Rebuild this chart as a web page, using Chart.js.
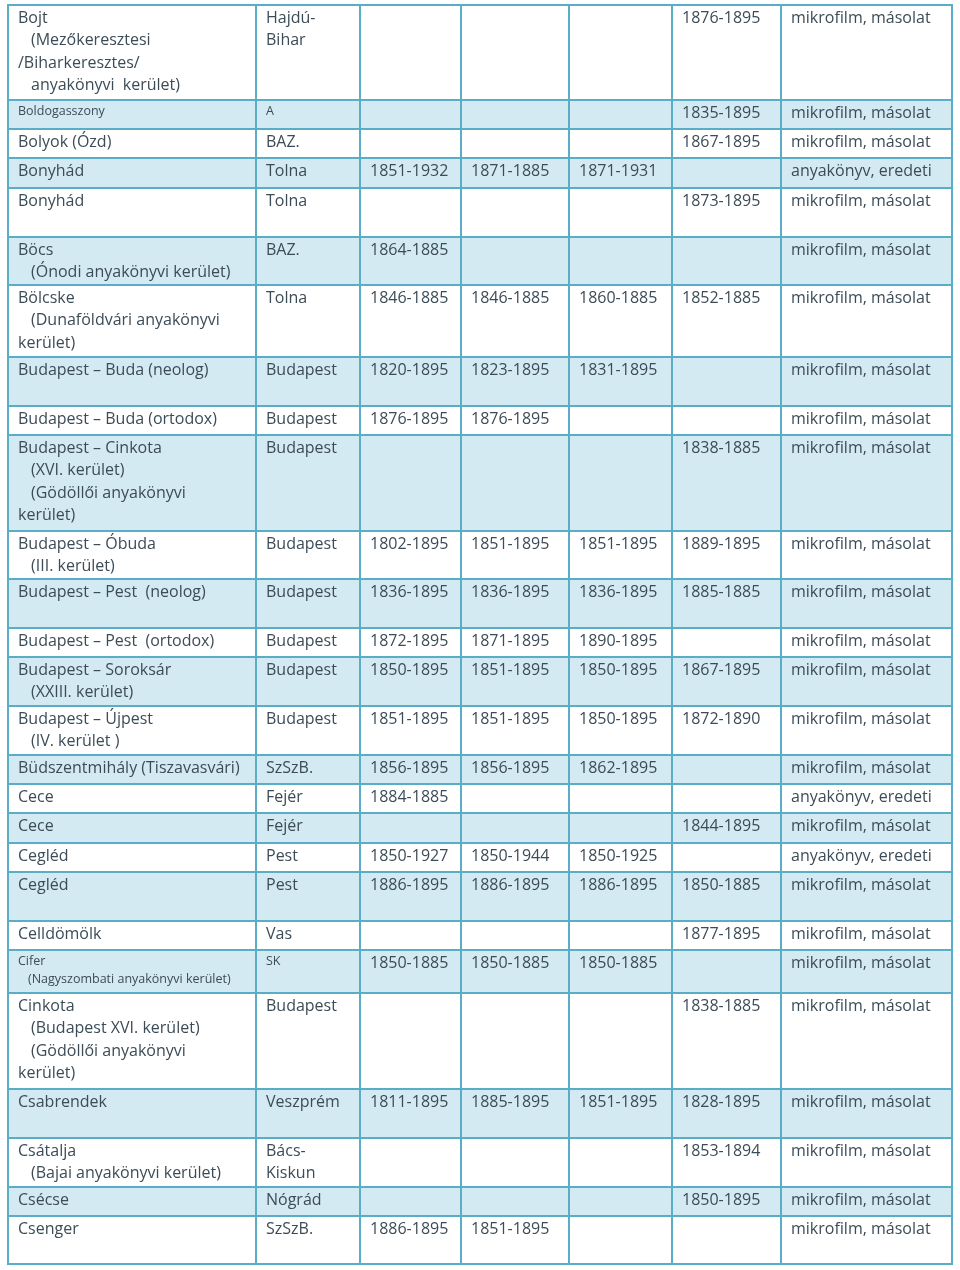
<!DOCTYPE html>
<html>
<head>
<meta charset="utf-8">
<script src="https://cdn.jsdelivr.net/npm/chart.js@4.4.1/dist/chart.umd.min.js"></script>
<style>
html,body{margin:0;padding:0;background:#ffffff;}
#wrap{width:960px;height:1270px;position:relative;}
</style>
</head>
<body>
<div id="wrap"><canvas id="c" width="960" height="1270"></canvas></div>
<script>
// ---------- DATA ----------
const places = [
  ["Bojt", "  (Mezőkeresztesi", "/Biharkeresztes/", "  anyakönyvi  kerület)"],
  "Boldogasszony",
  "Bolyok (Ózd)",
  "Bonyhád",
  "Bonyhád",
  ["Böcs", "  (Ónodi anyakönyvi kerület)"],
  ["Bölcske", "  (Dunaföldvári anyakönyvi", "kerület)"],
  "Budapest – Buda (neolog)",
  "Budapest – Buda (ortodox)",
  ["Budapest – Cinkota", "  (XVI. kerület)", "  (Gödöllői anyakönyvi", "kerület)"],
  ["Budapest – Óbuda", "  (III. kerület)"],
  "Budapest – Pest  (neolog)",
  "Budapest – Pest  (ortodox)",
  ["Budapest – Soroksár", "  (XXIII. kerület)"],
  ["Budapest – Újpest", "  (IV. kerület )"],
  "Büdszentmihály (Tiszavasvári)",
  "Cece",
  "Cece",
  "Cegléd",
  "Cegléd",
  "Celldömölk",
  ["Cifer", "  (Nagyszombati anyakönyvi kerület)"],
  ["Cinkota", "  (Budapest XVI. kerület)", "  (Gödöllői anyakönyvi", "kerület)"],
  "Csabrendek",
  ["Csátalja", "  (Bajai anyakönyvi kerület)"],
  "Csécse",
  "Csenger"
];
const counties = [
  ["Hajdú-", "Bihar"], "A", "BAZ.", "Tolna", "Tolna", "BAZ.", "Tolna",
  "Budapest", "Budapest", "Budapest", "Budapest", "Budapest", "Budapest",
  "Budapest", "Budapest", "SzSzB.", "Fejér", "Fejér", "Pest", "Pest", "Vas",
  "SK", "Budapest", "Veszprém", ["Bács-", "Kiskun"], "Nógrád", "SzSzB."
];
const years1 = [
  "", "", "", "1851-1932", "", "1864-1885", "1846-1885", "1820-1895", "1876-1895",
  "", "1802-1895", "1836-1895", "1872-1895", "1850-1895", "1851-1895", "1856-1895",
  "1884-1885", "", "1850-1927", "1886-1895", "", "1850-1885", "", "1811-1895",
  "", "", "1886-1895"
];
const years2 = [
  "", "", "", "1871-1885", "", "", "1846-1885", "1823-1895", "1876-1895",
  "", "1851-1895", "1836-1895", "1871-1895", "1851-1895", "1851-1895", "1856-1895",
  "", "", "1850-1944", "1886-1895", "", "1850-1885", "", "1885-1895",
  "", "", "1851-1895"
];
const years3 = [
  "", "", "", "1871-1931", "", "", "1860-1885", "1831-1895", "",
  "", "1851-1895", "1836-1895", "1890-1895", "1850-1895", "1850-1895", "1862-1895",
  "", "", "1850-1925", "1886-1895", "", "1850-1885", "", "1851-1895",
  "", "", ""
];
const years4 = [
  "1876-1895", "1835-1895", "1867-1895", "", "1873-1895", "", "1852-1885", "", "",
  "1838-1885", "1889-1895", "1885-1885", "", "1867-1895", "1872-1890", "",
  "", "1844-1895", "", "1850-1885", "1877-1895", "", "1838-1885", "1828-1895",
  "1853-1894", "1850-1895", ""
];
const recordTypes = [
  "mikrofilm, másolat", "mikrofilm, másolat", "mikrofilm, másolat", "anyakönyv, eredeti",
  "mikrofilm, másolat", "mikrofilm, másolat", "mikrofilm, másolat", "mikrofilm, másolat",
  "mikrofilm, másolat", "mikrofilm, másolat", "mikrofilm, másolat", "mikrofilm, másolat",
  "mikrofilm, másolat", "mikrofilm, másolat", "mikrofilm, másolat", "mikrofilm, másolat",
  "anyakönyv, eredeti", "mikrofilm, másolat", "anyakönyv, eredeti", "mikrofilm, másolat",
  "mikrofilm, másolat", "mikrofilm, másolat", "mikrofilm, másolat", "mikrofilm, másolat",
  "mikrofilm, másolat", "mikrofilm, másolat", "mikrofilm, másolat"
];
const smallTextRows = [1, 21];

// ---------- LAYOUT (table units, mapped through the chart scales) ----------
const colEdges = [8, 256, 360, 461, 569, 672, 781, 952];
const rowEdges = [5, 100, 129, 158, 188, 237, 285, 357, 406, 435, 531, 579, 628, 657,
                  706, 755, 784, 813, 843, 872, 921, 950, 993, 1089, 1138, 1187, 1216, 1264];

// ---------- STYLE ----------
const BORDER = '#5aadc7';
const FILL_ALT = '#d4eaf2';
const FILL = '#ffffff';
const TEXT = '#3c4c57';
const FONT = '"Open Sans", "Noto Sans", sans-serif';
const FS = 16, FS_SMALL = 12.5;
const LINE_H = 22.3, LINE_H_SMALL = 17.5;
const PAD = 10, INDENT = 13, INDENT_SMALL = 10;

const columns = [places, counties, years1, years2, years3, years4, recordTypes];

const tablePlugin = {
  id: 'tableCells',
  beforeDatasetsDraw(chart) {
    const ctx = chart.ctx;
    const xs = chart.scales.x, ys = chart.scales.y;
    const X = v => xs.getPixelForValue(v);
    const Y = v => ys.getPixelForValue(v);
    const nRows = places.length;
    ctx.save();
    // row fills
    for (let r = 0; r < nRows; r++) {
      ctx.fillStyle = (r % 2 === 1) ? FILL_ALT : FILL;
      const x0 = X(colEdges[0]), x1 = X(colEdges[colEdges.length - 1]);
      const y0 = Y(rowEdges[r]), y1 = Y(rowEdges[r + 1]);
      ctx.fillRect(x0, y0, x1 - x0, y1 - y0);
    }
    // grid
    ctx.strokeStyle = BORDER;
    ctx.lineWidth = 2;
    ctx.beginPath();
    rowEdges.forEach(v => {
      ctx.moveTo(X(colEdges[0]) - 1, Y(v));
      ctx.lineTo(X(colEdges[colEdges.length - 1]) + 1, Y(v));
    });
    colEdges.forEach(v => {
      ctx.moveTo(X(v), Y(rowEdges[0]));
      ctx.lineTo(X(v), Y(rowEdges[rowEdges.length - 1]));
    });
    ctx.stroke();
    // texts
    ctx.fillStyle = TEXT;
    ctx.textBaseline = 'alphabetic';
    ctx.textAlign = 'left';
    for (let r = 0; r < nRows; r++) {
      columns.forEach((col, c) => {
        const val = col[r];
        if (!val) return;
        const lines = Array.isArray(val) ? val : [val];
        const small = smallTextRows.includes(r) && c < 2;
        ctx.font = (small ? FS_SMALL : FS) + 'px ' + FONT;
        const lh = small ? LINE_H_SMALL : LINE_H;
        const first = small ? 15 : 18;
        lines.forEach((ln, i) => {
          const indented = /^\s/.test(ln);
          const txt = ln.replace(/^\s+/, '');
          const x = X(colEdges[c] + PAD + (indented ? (small ? INDENT_SMALL : INDENT) : 0));
          const y = Y(rowEdges[r] + first + i * lh);
          ctx.fillText(txt, x, y);
        });
      });
    }
    ctx.restore();
  }
};

new Chart(document.getElementById('c'), {
  type: 'scatter',
  data: { datasets: [] },
  options: {
    responsive: false,
    animation: false,
    events: [],
    layout: { padding: 0 },
    plugins: { legend: { display: false }, tooltip: { enabled: false }, title: { display: false } },
    scales: {
      x: { type: 'linear', min: 0, max: 960, display: false },
      y: { type: 'linear', min: 0, max: 1270, reverse: true, display: false }
    }
  },
  plugins: [tablePlugin]
});
</script>
</body>
</html>
